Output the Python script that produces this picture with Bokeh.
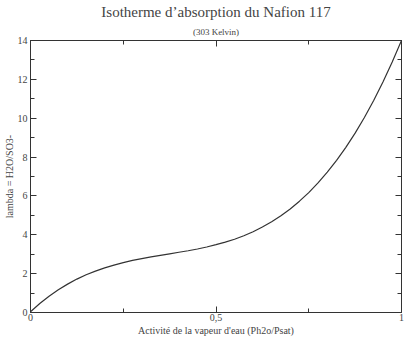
from bokeh.plotting import figure
from bokeh.models import Range1d, FixedTicker, LinearAxis, Title
from bokeh.embed import file_html
from bokeh.resources import INLINE

activity = [0.0, 0.025, 0.05, 0.075, 0.1, 0.125, 0.15, 0.175, 0.2, 0.225, 0.25,
            0.275, 0.3, 0.325, 0.35, 0.375, 0.4, 0.425, 0.45, 0.475, 0.5,
            0.525, 0.55, 0.575, 0.6, 0.625, 0.65, 0.675, 0.7, 0.725, 0.75,
            0.775, 0.8, 0.825, 0.85, 0.875, 0.9, 0.925, 0.95, 0.975, 1.0]
lam = [0.04, 0.46, 0.84, 1.17, 1.46, 1.72, 1.94, 2.13, 2.30, 2.44, 2.57,
       2.68, 2.77, 2.86, 2.94, 3.02, 3.10, 3.18, 3.27, 3.37, 3.49,
       3.62, 3.77, 3.95, 4.16, 4.40, 4.67, 4.98, 5.33, 5.73, 6.17,
       6.67, 7.22, 7.83, 8.50, 9.23, 10.04, 10.91, 11.86, 12.89, 14.0]

x_ticks = [0, 0.5, 1]
x_minor = [0.25, 0.75]
x_labels = {0: "0", 0.5: "0,5", 1: "1"}
y_ticks = [0, 2, 4, 6, 8, 10, 12, 14]
y_minor = [1, 3, 5, 7, 9, 11, 13]

FONT = "Liberation Serif"
INK = "#333333"
TXT = "#444444"

p = figure(width=409, height=338, output_backend="svg", toolbar_location=None,
           x_range=Range1d(0, 1), y_range=Range1d(0, 14),
           min_border_left=3, min_border_right=8, min_border_bottom=10, min_border_top=5)
p.title = None
p.grid.visible = False
p.outline_line_color = INK
p.outline_line_width = 1
p.background_fill_color = "white"
p.border_fill_color = "white"

p.line(activity, lam, line_color=INK, line_width=1.2)

def style(ax, labels=True):
    ax.major_tick_in = 6
    ax.major_tick_out = 0
    ax.minor_tick_in = 4
    ax.minor_tick_out = 0
    ax.axis_line_color = INK
    ax.major_tick_line_color = INK
    ax.minor_tick_line_color = INK
    ax.major_label_text_font = FONT
    ax.major_label_text_font_size = "10px"
    ax.major_label_text_color = TXT if labels else None
    ax.major_label_standoff = 2
    ax.axis_label_text_font = FONT
    ax.axis_label_text_font_size = "10px"
    ax.axis_label_text_font_style = "normal"
    ax.axis_label_text_color = TXT

xa = p.xaxis[0]
xa.ticker = FixedTicker(ticks=x_ticks, minor_ticks=x_minor)
xa.major_label_overrides = x_labels
xa.axis_label = "Activité de la vapeur d'eau (Ph2o/Psat)"
style(xa)
xa.major_label_standoff = 1
xa.axis_label_standoff = 1

ya = p.yaxis[0]
ya.ticker = FixedTicker(ticks=y_ticks, minor_ticks=y_minor)
ya.axis_label = "lambda = H2O/SO3-"
style(ya)
ya.major_label_standoff = 3
ya.axis_label_standoff = 0

ra = LinearAxis(ticker=FixedTicker(ticks=y_ticks, minor_ticks=y_minor))
style(ra, labels=False)
ra.major_label_text_font_size = "0px"
ra.major_label_standoff = 0
p.add_layout(ra, "right")

ta = LinearAxis(ticker=FixedTicker(ticks=x_ticks, minor_ticks=x_minor))
style(ta, labels=False)
ta.major_label_text_font_size = "0px"
ta.major_label_standoff = 0
p.add_layout(ta, "above")

sub = Title(text="(303 Kelvin)", align="center", text_font=FONT,
            text_font_size="9px", text_font_style="normal", text_color=TXT,
            standoff=7)
p.add_layout(sub, "above")
main = Title(text="Isotherme d\u2019absorption du Nafion 117", align="center",
             text_font=FONT, text_font_size="15px", text_font_style="normal",
             text_color=TXT, standoff=3)
p.add_layout(main, "above")

open("out.html", "w").write(file_html(p, INLINE))
